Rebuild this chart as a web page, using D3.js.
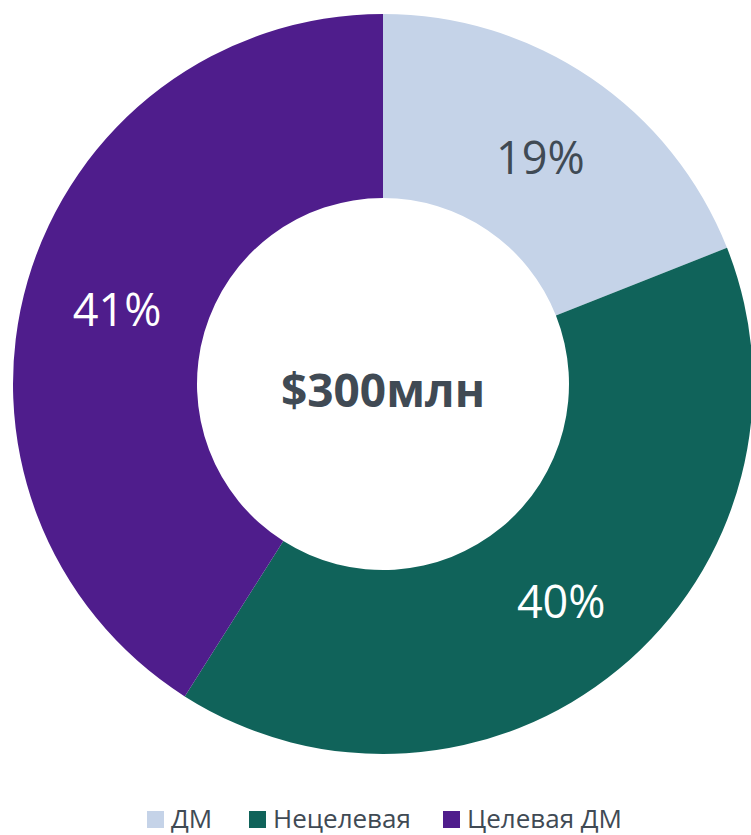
<!DOCTYPE html>
<html>
<head>
<meta charset="utf-8">
<script src="https://cdn.jsdelivr.net/npm/d3@7"></script>
<style>
  html, body { margin: 0; padding: 0; background: #fff; }
  svg { display: block; }
</style>
</head>
<body>
<svg id="chart" width="751" height="835"></svg>
<script>
// Budget split by segment
const categories = ["ДМ", "Нецелевая", "Целевая ДМ"];
const shares = [19, 40, 41];
const colors = ["#C5D3E8", "#10635A", "#4F1D8C"];
const labelColors = ["#404A54", "#FFFFFF", "#FFFFFF"];
const centerLabel = "$300млн";

const svg = d3.select("#chart");
const cx = 383, cy = 384;
const outerR = 370, innerR = 186;
const font = "'Open Sans', 'Noto Sans', sans-serif";

const pie = d3.pie().sort(null).value(d => d)(shares);
const arc = d3.arc().innerRadius(innerR).outerRadius(outerR);

const g = svg.append("g").attr("transform", `translate(${cx},${cy})`);

g.selectAll("path.slice")
  .data(pie)
  .join("path")
  .attr("class", "slice")
  .attr("d", arc)
  .attr("fill", (d, i) => colors[i]);

g.selectAll("text.pct")
  .data(pie)
  .join("text")
  .attr("class", "pct")
  .attr("transform", d => { const [x, y] = arc.centroid(d); return `translate(${x + 1},${y + 2})`; })
  .attr("text-anchor", "middle")
  .attr("dominant-baseline", "central")
  .attr("font-family", font)
  .attr("font-size", 45)
  .attr("fill", (d, i) => labelColors[i])
  .text(d => d.data + "%");

g.append("text")
  .attr("x", 0)
  .attr("y", 5)
  .attr("text-anchor", "middle")
  .attr("dominant-baseline", "central")
  .attr("font-family", font)
  .attr("font-weight", "bold")
  .attr("font-size", 46)
  .attr("fill", "#404A54")
  .text(centerLabel);

// Legend
const legend = svg.append("g").attr("transform", "translate(0,818)");
const legendX = [147, 249, 443];
const items = legend.selectAll("g.item")
  .data(categories)
  .join("g")
  .attr("class", "item")
  .attr("transform", (d, i) => `translate(${legendX[i]},0)`);

items.append("rect")
  .attr("x", 0).attr("y", -7)
  .attr("width", 17).attr("height", 17)
  .attr("fill", (d, i) => colors[i]);

items.append("text")
  .attr("x", 24)
  .attr("y", 0)
  .attr("dominant-baseline", "central")
  .attr("font-family", font)
  .attr("font-size", 26)
  .attr("fill", "#404A54")
  .text(d => d);
</script>
</body>
</html>
